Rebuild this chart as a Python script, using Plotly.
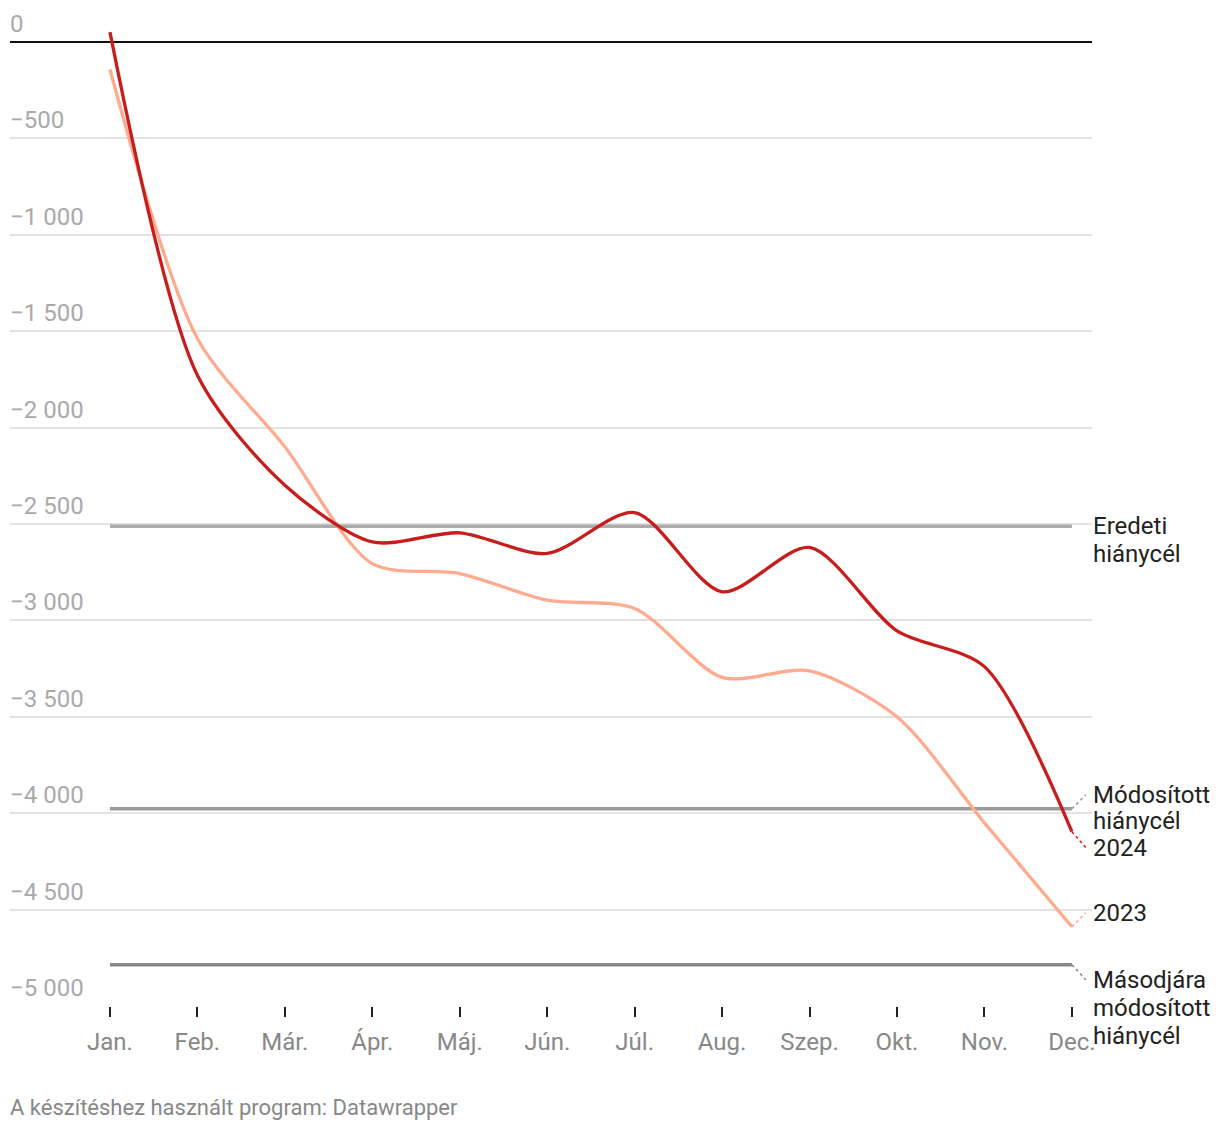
import plotly.graph_objects as go

months = ["Jan.", "Feb.", "Már.", "Ápr.", "Máj.", "Jún.", "Júl.", "Aug.", "Szep.", "Okt.", "Nov.", "Dec."]
y2024 = [51, -1729, -2299, -2593, -2546, -2653, -2441, -2852, -2622, -3055, -3240, -4096]
y2023 = [-143, -1538, -2100, -2706, -2757, -2895, -2938, -3296, -3262, -3500, -4050, -4589]
target_names = [["Eredeti", "hiánycél"], ["Módosított", "hiánycél"], ["Másodjára", "módosított", "hiánycél"]]
target_values = [-2512, -3977, -4786]
target_colors = ["#ababab", "#999999", "#888888"]
ytick_vals = [0, -500, -1000, -1500, -2000, -2500, -3000, -3500, -4000, -4500, -5000]
ytick_text = ["0", "−500", "−1 000", "−1 500", "−2 000", "−2 500", "−3 000", "−3 500", "−4 000", "−4 500", "−5 000"]

W, H = 1220, 1132
L, R = 10, 1092
TOP, BOTTOM = 12.6, 1006
YMIN, YMAX = -5000, 150
XMIN, XMAX = -1.143, 11.23
px_per_unit = (BOTTOM - TOP) / (YMAX - YMIN)
px_per_month = (R - L) / (XMAX - XMIN)
LINE_H = 28

FONT = "Roboto, 'Noto Sans', sans-serif"
RED = "#c71e1d"
SALMON = "#ffab8f"

xs = list(range(len(months)))
fig = go.Figure()

for v, c in zip(target_values, target_colors):
    fig.add_trace(go.Scatter(x=[xs[0], xs[-1]], y=[v, v], mode="lines",
                             line=dict(color=c, width=3.5), hoverinfo="skip", showlegend=False))

fig.add_trace(go.Scatter(x=xs, y=y2023, mode="lines", line=dict(color=SALMON, width=3.3, shape="spline", smoothing=0.8),
                         showlegend=False, name="2023"))
fig.add_trace(go.Scatter(x=xs, y=y2024, mode="lines", line=dict(color=RED, width=3.3, shape="spline", smoothing=0.8),
                         showlegend=False, name="2024"))

labels = [
    (target_names[0], target_values[0], 0, 28, None),
    (target_names[1], target_values[1], -14, 26, target_colors[1]),
    (["2024"], y2024[-1], 16, 28, RED),
    (["2023"], y2023[-1], -14, 28, SALMON),
    (target_names[2], target_values[2], 15, 28, target_colors[2]),
]
annotations = []
conn_dx = 14 / px_per_month
for lines, val, off, lh, col in labels:
    for i, t in enumerate(lines):
        annotations.append(dict(x=XMAX, xref="x", y=val, yref="y", text=t, showarrow=False,
                                xanchor="left", yanchor="middle", align="left", borderpad=0,
                                yshift=-(off + i * lh), xshift=0,
                                font=dict(family=FONT, size=24, color="#222222")))
    if col is not None:
        fig.add_trace(go.Scatter(x=[xs[-1], xs[-1] + conn_dx], y=[val, val - off / px_per_unit], mode="lines",
                                 line=dict(color=col, width=1.5, dash="dot"), hoverinfo="skip", showlegend=False))

for v, t in zip(ytick_vals, ytick_text):
    annotations.append(dict(x=0, xref="paper", y=v, yref="y", text=t, showarrow=False, xanchor="left",
                            yanchor="middle", yshift=18, xshift=-2,
                            font=dict(family=FONT, size=24, color="#aaaaaa")))

annotations.append(dict(x=0, xref="paper", y=(BOTTOM - 1108) / (BOTTOM - TOP), yref="paper",
                        text="A készítéshez használt program: Datawrapper", showarrow=False,
                        xanchor="left", yanchor="middle", xshift=-2,
                        font=dict(family=FONT, size=22, color="#888888")))

fig.update_layout(
    width=W, height=H,
    margin=dict(l=L, r=W - R, t=TOP, b=H - BOTTOM, pad=0),
    plot_bgcolor="white", paper_bgcolor="white",
    annotations=annotations,
    xaxis=dict(range=[XMIN, XMAX], tickvals=xs, ticktext=months, showgrid=False, zeroline=False,
               ticks="outside", ticklen=10, tickwidth=2, tickcolor="#222222", ticklabelstandoff=4,
               tickfont=dict(family=FONT, size=24, color="#888888"), showline=False, fixedrange=True),
    yaxis=dict(range=[YMIN, YMAX], tickvals=ytick_vals, showticklabels=False, showgrid=True,
               gridcolor="#e3e3e3", gridwidth=1.5, zeroline=True, zerolinecolor="#111111", zerolinewidth=2,
               showline=False, fixedrange=True),
    hovermode=False,
)

fig.write_html("out.html", config={"displayModeBar": False},
               post_script="document.body.style.margin='0px';")
